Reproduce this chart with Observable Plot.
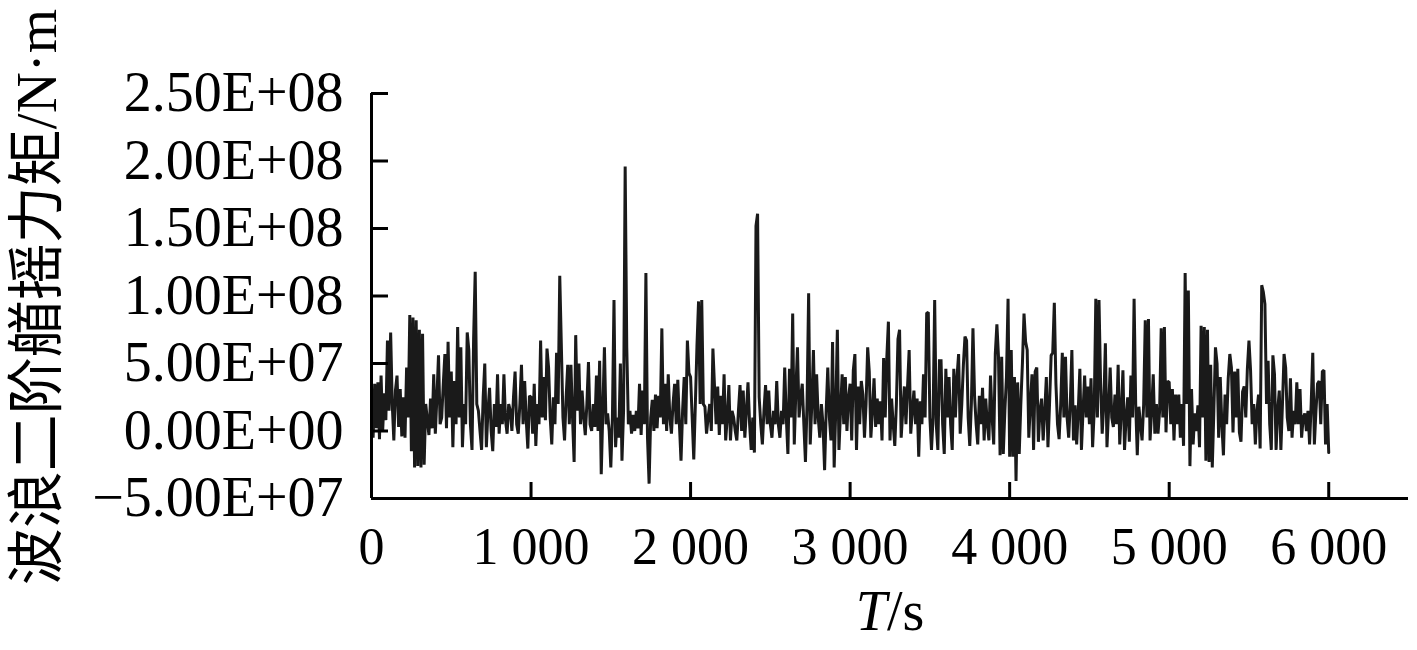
<!DOCTYPE html>
<html><head><meta charset="utf-8">
<script src="https://cdn.jsdelivr.net/npm/d3@7"></script>
<script src="https://cdn.jsdelivr.net/npm/@observablehq/plot@0.6"></script>
<style>
html,body{margin:0;padding:0;background:#fff;}
#chart svg{display:block;}
</style></head><body><div id="chart"></div>
<script>
// Time step between samples (s)
const step = 10;
// Wave second-order yaw moment, in units of 1e7 N·m
const seg1 = [
 2.0, -0.5, 3.5, 0.2, 3.6, -0.6, 4.1, 0.0, 2.8, 0.8,
 6.7, 1.5, 7.3, 2.0, -0.7, 3.0, 4.1, 0.3, 3.1, -0.4,
 2.5, -0.5, 4.7, 1.0, 8.6, -1.5, 8.4, -2.7, 8.2, -2.6,
 7.5, -2.7, 7.2, -2.5, 2.0, 0.8, -0.3, 2.4, 0.2, 4.2,
 -0.2, 2.5, 5.6, 0.5, 1.0, 3.5, 5.7, 0.2, 6.6, 1.0,
 4.4, -1.2, 3.7, 0.5, 7.7, 1.0, 6.2, -1.2, 2.0, 0.5,
 7.3, 6.0, 0.5, -1.4, 6.8, 11.8, 2.0, 1.5, 0.0, -1.4,
 2.5, 5.0, -1.2, 1.5, 3.2, 0.0, -1.5, 2.0, 0.3, 4.2,
 -0.2, 2.0, 0.5, 4.2, 0.8, -0.2, 2.0, 1.5, 0.0, 2.5,
 4.4, 0.5, -0.2, 2.0, 4.9, 0.5, 3.7, 0.8, -1.3, 2.6
];
const seg2 = [
 2.5, -0.2, 3.5, -1.1, 2.0, 0.5, 6.7, 1.0, 4.0, 0.8,
 6.1, 4.7, 1.0, -1.0, 2.5, 0.5, 5.8, 2.0, 11.5, 6.3,
 1.0, -0.7, 2.5, 4.9, 0.5, 4.9, 1.0, -2.3, 7.1, 1.5,
 5.0, 0.5, 3.0, 1.0, -0.3, 2.0, 5.1, 0.5, 0.0, 2.0,
 0.3, 4.1, 0.0, 5.2, -3.2, 1.5, 6.2, 0.5, 1.3, 0.0,
 -2.7, 1.0, 9.7, -1.2, 1.0, -0.5, 5.0, -2.2, 1.5, 19.6,
 6.2, 0.5, 1.5, -0.2, 1.2, 0.0, 1.5, 0.2, 3.5, -0.3,
 3.0, 0.5, 11.7, -0.5, -3.9, 1.0, 2.3, 0.0, 2.7, 0.2,
 2.6, 1.0, 7.6, 0.5, 3.5, 0.0, 4.2, 1.0, -0.2, 2.0,
 3.5, 0.5, 3.8, 0.5, -2.2, 1.5, 4.0, 0.5, 6.7, 4.3
];
const seg3 = [
 4.0, 1.0, -2.1, 2.0, 6.3, 9.6, 2.0, 9.7, 2.0, 1.8,
 -0.2, 1.0, 2.0, 0.0, 6.1, 3.3, 0.5, 3.3, -0.3, 2.6,
 0.5, 4.2, -0.7, 1.0, 3.4, -0.7, 1.5, 1.0, 0.0, -0.7,
 1.5, 3.4, 0.0, 3.0, -0.5, 1.5, 3.6, 0.5, -1.4, 1.0,
 -1.6, 15.2, 16.1, 2.5, 0.5, -1.0, 1.5, 3.4, 0.5, 3.0,
 0.5, -0.5, 1.5, 0.5, 3.7, 0.5, -0.5, 1.5, 0.5, 4.7,
 1.0, -1.7, 4.6, 1.0, 8.7, -1.0, 3.0, 6.2, 1.0, 2.5,
 3.5, 0.5, -2.3, 2.0, 10.2, -1.0, 2.0, 6.0, 0.5, 4.2,
 1.0, -0.5, 2.0, 0.5, -2.9, 1.5, 4.7, 1.0, -0.7, 6.6,
 -2.7, 1.5, 7.5, -1.4, 1.5, 4.2, 0.5, 4.0, 0.0, 2.5
];
const seg4 = [
 3.5, -0.7, 4.5, 5.7, -1.4, 3.3, 0.5, 3.7, 2.7, -0.5,
 2.0, 6.2, 4.4, -0.5, 1.5, 3.9, 0.3, 2.4, 0.5, 2.2,
 -0.7, 5.4, 1.0, 5.4, 8.1, -0.7, 2.4, 0.5, -1.1, 2.0,
 6.8, 7.5, -0.5, 1.5, 3.3, 0.5, 3.3, 6.0, -0.2, 1.5,
 3.0, 0.5, 2.4, -1.9, 2.2, 0.5, 4.2, 1.0, 8.7, 8.8,
 1.0, -1.4, 1.0, 9.7, 0.5, -1.4, 5.2, 5.2, 0.5, -1.7,
 4.6, 1.0, 4.0, 0.5, -1.4, 4.6, 1.0, 4.0, 5.7, -0.2,
 2.0, 4.9, 7.0, 6.7, 1.0, -1.1, 2.0, 7.6, 2.6, 0.5,
 -1.0, 2.6, 0.5, 3.2, -0.7, 2.4, 0.5, -0.7, 4.1, 1.0,
 -1.0, 5.7, 7.9, 5.5, -1.8, 5.5, -1.7, 1.5, 4.0, 9.8
];
const seg5 = [
 -1.9, 6.0, -1.9, 4.0, -3.7, 3.6, -1.7, 2.0, 5.0, 8.7,
 6.6, 6.0, -0.5, 2.0, 4.2, -1.4, 4.4, 4.7, -0.8, 1.5,
 2.4, -0.7, 1.5, 4.0, -1.2, 2.0, 5.6, 5.8, 9.5, 3.5,
 0.5, -0.6, 2.0, 5.8, 1.0, 5.5, 1.0, -0.5, 2.0, 6.0,
 -0.7, 1.9, -1.0, 1.5, 4.6, -1.4, 1.5, 4.1, 1.0, 3.3,
 0.5, 3.9, -1.2, 1.5, 9.8, 1.0, 9.7, 3.5, -0.2, 2.0,
 6.5, -1.2, 1.5, 4.7, 1.0, 0.3, 2.7, 0.5, 4.9, -1.0,
 1.5, 4.5, -1.4, 1.0, 2.5, -0.8, 4.1, 1.0, 9.8, 2.0,
 -1.8, 1.8, 0.5, -0.7, 2.0, 8.2, 1.0, 8.3, -0.7, 1.5,
 4.2, -0.2, 2.0, -0.2, 1.5, 7.6, 1.0, 7.7, -0.1, 3.7
];
const seg6 = [
 3.6, 0.5, 3.1, -0.7, 2.7, 0.5, 2.7, -0.5, 2.0, -1.1,
 11.7, 2.0, 10.4, -2.6, 3.1, -1.0, 1.3, 0.0, 1.9, -1.2,
 7.8, 1.0, 7.7, -2.2, 7.5, -2.3, 4.9, -2.7, 1.5, 6.2,
 5.0, -0.5, 4.0, 0.5, -1.8, 2.7, 0.5, 3.9, 5.7, 4.7,
 -0.1, 4.4, 1.0, 4.6, -0.1, -0.8, 2.9, 3.3, 1.0, 4.6,
 6.7, 4.5, 0.5, 2.0, -1.0, 1.5, 2.7, -1.3, 10.8, 10.3,
 9.4, 2.0, 5.2, 0.5, -1.4, 5.6, 4.2, -1.4, 1.5, 3.0,
 -1.4, 2.0, 5.7, 4.7, 1.0, 0.0, 3.9, -0.5, 1.5, 0.5,
 3.6, 0.5, 3.1, -0.5, 1.0, 1.3, 0.0, 1.5, -1.0, 2.0,
 5.8, -1.0, 1.5, 3.5, 3.7, 0.5, 4.4, 4.5, -1.0, 2.0,
 -1.6
];
const xTicks = [0, 1000, 2000, 3000, 4000, 5000, 6000];
const xTickLabels = ["0", "1 000", "2 000", "3 000", "4 000", "5 000", "6 000"];
const yTicks = [-5e7, 0, 5e7, 1e8, 1.5e8, 2e8, 2.5e8];
const yTickLabels = ["\u22125.00E+07", "0.00E+00", "5.00E+07", "1.00E+08", "1.50E+08", "2.00E+08", "2.50E+08"];
const yTitle = "波浪二阶艏摇力矩/N·m";

const values = [...seg1, ...seg2, ...seg3, ...seg4, ...seg5, ...seg6].map(v => v * 1e7);
const data = values.map((v, i) => ({t: i * step, m: v}));

const W = 1417, H = 650, mL = 371, mR = 9, mT = 93, mB = 152;
const serif = "'Liberation Serif', 'Times New Roman', serif";

const plot = Plot.plot({
  width: W, height: H,
  marginLeft: mL, marginRight: mR, marginTop: mT, marginBottom: mB,
  style: {fontFamily: serif, background: "white", color: "#000", overflow: "visible"},
  x: {domain: [0, 6500]},
  y: {domain: [-5e7, 2.5e8]},
  marks: [
    Plot.line(data, {x: "t", y: "m", stroke: "#1a1a1a", strokeWidth: 3, strokeLinejoin: "miter", strokeMiterlimit: 2}),
    Plot.ruleX([0], {stroke: "#000", strokeWidth: 3}),
    Plot.ruleY([-5e7], {stroke: "#000", strokeWidth: 3}),
    Plot.tickY(yTicks, {y: d => d, insetRight: W - mL - mR - 17, stroke: "#000", strokeWidth: 3}),
    Plot.tickX(xTicks, {x: d => d, insetTop: H - mT - mB - 16, stroke: "#000", strokeWidth: 3}),
    Plot.axisY(yTicks, {tickSize: 0, tickPadding: 28, fontSize: 56, label: null,
      tickFormat: d => yTickLabels[yTicks.indexOf(d)]}),
    Plot.axisX(xTicks, {tickSize: 0, tickPadding: 29, fontSize: 52, label: null,
      tickFormat: d => xTickLabels[xTicks.indexOf(d)]})
  ]
});

const svg = d3.select(plot);
svg.append("text")
  .attr("transform", "translate(36,297) rotate(-90)")
  .attr("text-anchor", "middle")
  .attr("dominant-baseline", "central")
  .style("font-family", "'Liberation Serif', 'Noto Sans CJK SC', serif")
  .style("font-size", "57px")
  .attr("fill", "#000")
  .text(yTitle);
const xl = svg.append("text")
  .attr("x", 890)
  .attr("y", 630)
  .attr("text-anchor", "middle")
  .style("font-family", serif)
  .style("font-size", "56px")
  .attr("fill", "#000");
xl.append("tspan").style("font-style", "italic").text("T");
xl.append("tspan").text("/s");

document.getElementById("chart").appendChild(plot);
</script>
</body></html>
